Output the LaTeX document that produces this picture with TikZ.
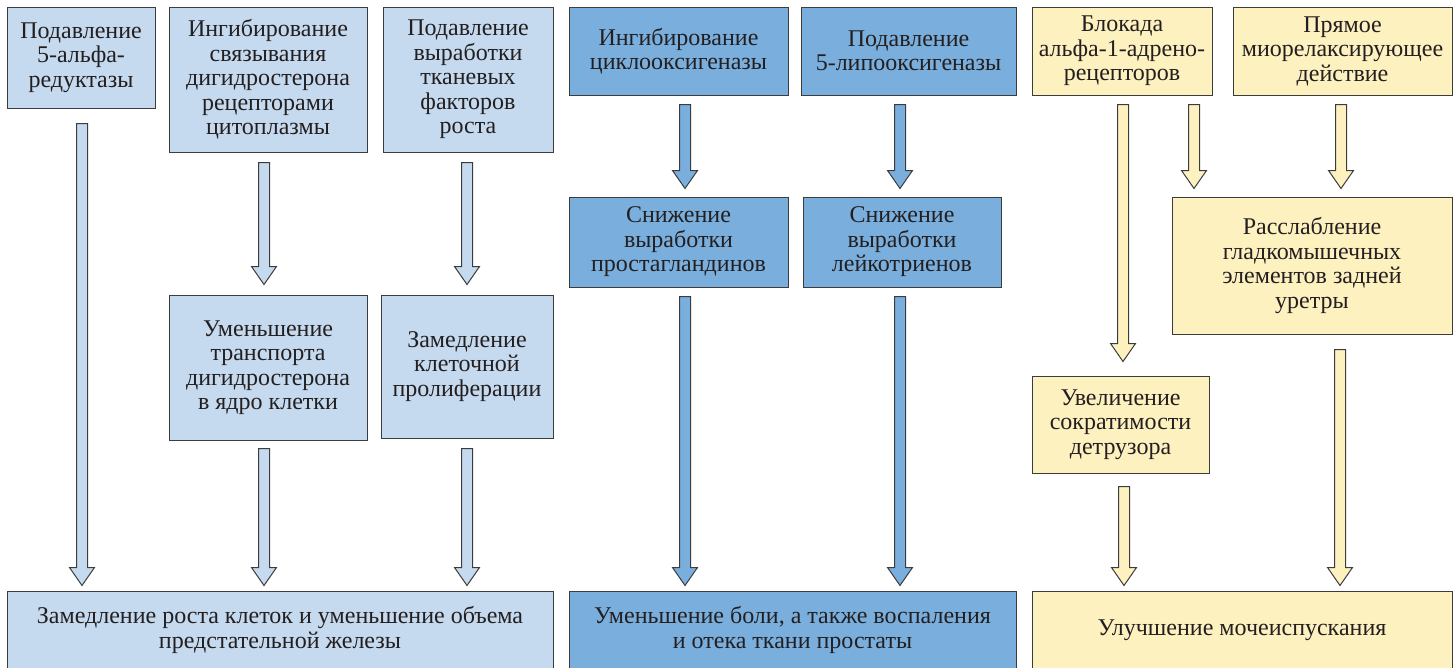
\documentclass[tikz,border=0pt]{standalone}
\usepackage{fontspec}
\setmainfont{Liberation Serif}
\newfontfamily\shrift{Liberation Serif}
\usetikzlibrary{calc}
\definecolor{ramka}{HTML}{3C3C3C}
\definecolor{tekst}{HTML}{231F20}
\definecolor{svetlyy}{HTML}{C5DAEF}
\definecolor{sredniy}{HTML}{7AAFDD}
\definecolor{zheltyy}{HTML}{FEF1C0}

\begin{document}
\begin{tikzpicture}[
  x=1pt, y=-1pt,
  font=\shrift\fontsize{24}{24.5}\selectfont,
  blok/.style={draw=ramka, line width=1pt, align=center,
               inner sep=0pt, text=tekst},
  strelka/.style={draw=ramka, line width=1pt, line join=miter,
    to path={let \p1=(\tikztostart), \p2=(\tikztotarget) in
      (\x1-5.5pt,\y1) -- (\x1-5.5pt,\y2+18pt) -- (\x1-12.5pt,\y2+18pt)
      -- (\x1,\y2) -- (\x1+12.5pt,\y2+18pt) -- (\x1+5.5pt,\y2+18pt)
      -- (\x1+5.5pt,\y1) -- cycle}}
]
\useasboundingbox (0,0) rectangle (1455,667);
\clip (0,0) rectangle (1455,667);

% antiandrogen column
\node[blok, fill=svetlyy, minimum width=148pt, minimum height=101pt] (B1) at (81,57.5) {Подавление\\5-альфа-\\редуктазы};
\node[blok, fill=svetlyy, minimum width=198pt, minimum height=145pt] (B2) at (268,79.5) {Ингибирование\\связывания\\дигидростерона\\рецепторами\\цитоплазмы};
\node[blok, fill=svetlyy, minimum width=170pt, minimum height=145pt] (B3) at (468,79.5) {Подавление\\выработки\\тканевых\\факторов\\роста};
\node[blok, fill=svetlyy, minimum width=198pt, minimum height=145pt] (B4) at (268,367.5) {Уменьшение\\транспорта\\дигидростерона\\в ядро клетки};
\node[blok, fill=svetlyy, minimum width=172pt, minimum height=143pt] (B5) at (467,366.5) {Замедление\\клеточной\\пролиферации};
\node[blok, fill=svetlyy, minimum width=546pt, minimum height=78pt] (B6) at (280,630) {Замедление роста клеток и уменьшение объема\\предстательной железы};

\draw[strelka, fill=svetlyy] ($(B1.south)+(1,15)$) to ($(B6.north)+(0,-5)$);
\draw[strelka, fill=svetlyy] ($(B2.south)+(-4,10)$) to ($(B4.north)+(0,-10)$);
\draw[strelka, fill=svetlyy] ($(B3.south)+(-1,10)$) to ($(B5.north)+(0,-10)$);
\draw[strelka, fill=svetlyy] ($(B4.south)+(-4,8)$) to ($(B6.north)+(0,-5)$);
\draw[strelka, fill=svetlyy] ($(B5.south)+(0,10)$) to ($(B6.north)+(0,-5)$);

% anti-inflammatory column
\node[blok, fill=sredniy, minimum width=219pt, minimum height=88pt] (C1) at (678.5,51) {Ингибирование\\циклооксигеназы};
\node[blok, fill=sredniy, minimum width=215pt, minimum height=88pt] (C2) at (908.5,51) {Подавление\\5-липооксигеназы};
\node[blok, fill=sredniy, minimum width=219pt, minimum height=90pt] (C3) at (678.5,242) {Снижение\\выработки\\простагландинов};
\node[blok, fill=sredniy, minimum width=198pt, minimum height=90pt] (C4) at (902,242) {Снижение\\выработки\\лейкотриенов};
\node[blok, fill=sredniy, minimum width=447pt, minimum height=78pt] (C5) at (792.5,630) {Уменьшение боли, а также воспаления\\и отека ткани простаты};

\draw[strelka, fill=sredniy] ($(C1.south)+(6.5,9)$) to ($(C3.north)+(0,-8)$);
\draw[strelka, fill=sredniy] ($(C2.south)+(-8.5,9)$) to ($(C4.north)+(0,-8)$);
\draw[strelka, fill=sredniy] ($(C3.south)+(6.5,9)$) to ($(C5.north)+(0,-5)$);
\draw[strelka, fill=sredniy] ($(C4.south)+(-2,9)$) to ($(C5.north)+(0,-5)$);

% urodynamic column
\node[blok, fill=zheltyy, minimum width=180pt, minimum height=88pt] (D1) at (1122,51) {Блокада\\альфа-1-адрено-\\рецепторов};
\node[blok, fill=zheltyy, minimum width=219pt, minimum height=88pt] (D2) at (1342.5,51) {Прямое\\миорелаксирующее\\действие};
\node[blok, fill=zheltyy, minimum width=280pt, minimum height=137pt] (D3) at (1312,265.5) {Расслабление\\гладкомышечных\\элементов задней\\уретры};
\node[blok, fill=zheltyy, minimum width=177pt, minimum height=97pt] (D4) at (1120.5,424.5) {Увеличение\\сократимости\\детрузора};
\node[blok, fill=zheltyy, minimum width=420pt, minimum height=78pt] (D5) at (1242,630) {Улучшение мочеиспускания};

\draw[strelka, fill=zheltyy] ($(D1.south)+(1,9)$) to ($(D4.north)+(0,-14)$);
\draw[strelka, fill=zheltyy] ($(D1.south)+(72,9)$) to ($(D3.north)+(0,-8)$);
\draw[strelka, fill=zheltyy] ($(D2.south)+(-1.5,9)$) to ($(D3.north)+(0,-8)$);
\draw[strelka, fill=zheltyy] ($(D4.south)+(3.5,13)$) to ($(D5.north)+(0,-5)$);
\draw[strelka, fill=zheltyy] ($(D3.south)+(28,15)$) to ($(D5.north)+(0,-5)$);
\end{tikzpicture}
\end{document}
